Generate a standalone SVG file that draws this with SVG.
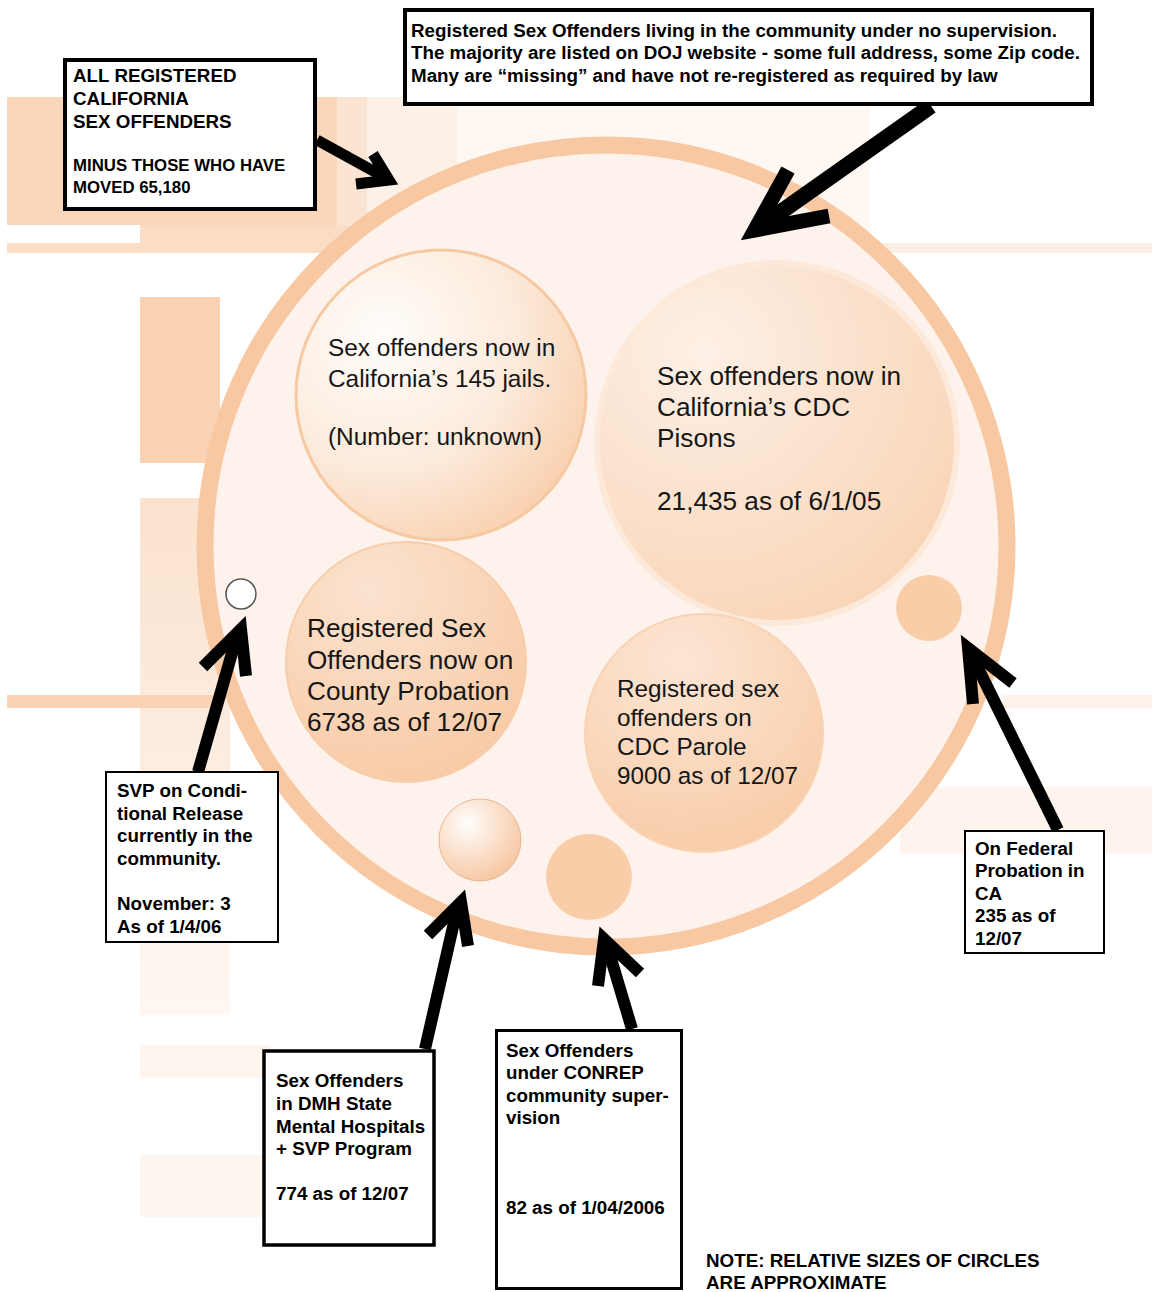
<svg xmlns="http://www.w3.org/2000/svg" width="1152" height="1292" viewBox="0 0 1152 1292">
<style>
.box{fill:#fff;stroke:#000}
.bt{font-family:"Liberation Sans",Arial,sans-serif;font-weight:bold;font-size:18.8px;fill:#000}
.sm{font-size:16.8px}
.ct{font-family:"Liberation Sans",Arial,sans-serif;fill:#161616}
.arr{fill:none;stroke:#000;stroke-linejoin:miter;stroke-miterlimit:6}
</style>
<defs>
<radialGradient id="gJail" cx="0.3" cy="0.3" r="0.85">
<stop offset="0" stop-color="#FFFDFB"/><stop offset="0.55" stop-color="#FCEADB"/><stop offset="1" stop-color="#F8CBA6"/>
</radialGradient>
<radialGradient id="gCdc" cx="0.3" cy="0.25" r="0.9">
<stop offset="0" stop-color="#FDF0E6"/><stop offset="1" stop-color="#F9D2B2"/>
</radialGradient>
<radialGradient id="gCounty" cx="0.35" cy="0.2" r="0.9">
<stop offset="0" stop-color="#FBE3D0"/><stop offset="1" stop-color="#F8C9A3"/>
</radialGradient>
<radialGradient id="gParole" cx="0.4" cy="0.2" r="0.9">
<stop offset="0" stop-color="#FCE6D5"/><stop offset="1" stop-color="#F8CAA4"/>
</radialGradient>
<radialGradient id="gDmh" cx="0.35" cy="0.3" r="0.8">
<stop offset="0" stop-color="#FFFDFB"/><stop offset="1" stop-color="#F6C29B"/>
</radialGradient>
<linearGradient id="gLeft" x1="0" y1="0" x2="0" y2="1">
<stop offset="0" stop-color="#FBE2CE"/><stop offset="1" stop-color="#FEF7F2"/>
</linearGradient>
</defs>

<g id="background">
<rect x="7" y="97" width="330" height="128" fill="#FAD7BB"/>
<rect x="337" y="97" width="30" height="128" fill="#FCE4D2"/>
<rect x="367" y="97" width="90" height="128" fill="#FDF0E7"/>
<rect x="457" y="97" width="413" height="150" fill="#FEF7F2"/>
<rect x="140" y="225" width="210" height="18" fill="#FBDCC4"/>
<rect x="7" y="243" width="460" height="10" fill="#FBDCC4"/>
<rect x="880" y="243" width="272" height="10" fill="#FDEEE4"/>
<rect x="140" y="297" width="80" height="166" fill="#FAD3B4"/>
<rect x="140" y="498" width="90" height="517" fill="url(#gLeft)"/>
<rect x="7" y="695" width="210" height="13" fill="#FAD3B4"/>
<rect x="140" y="1045" width="130" height="33" fill="#FEF5EE"/>
<rect x="140" y="1155" width="130" height="62" fill="#FEF5EE"/>
<rect x="900" y="787" width="252" height="66" fill="#FEF4ED"/>
<rect x="1003" y="695" width="149" height="13" fill="#FEF2EA"/>
</g>

<g id="all-registered-circle">
<circle cx="606" cy="546" r="401" fill="#FDF3EC" stroke="#F8C8A2" stroke-width="17"/>
</g>

<g id="jails">
<circle cx="441" cy="395" r="145" fill="url(#gJail)" stroke="#F6C9A3" stroke-width="3"/>
<text class="ct" font-size="24.4" x="328" y="355.5">Sex offenders now in</text>
<text class="ct" font-size="24.4" x="328" y="386.5">California’s 145 jails.</text>
<text class="ct" font-size="24.4" x="328" y="444.5">(Number: unknown)</text>
</g>

<g id="cdc-prisons">
<circle cx="777" cy="443" r="180" fill="url(#gCdc)" stroke="#FCE9DA" stroke-width="6"/>
<text class="ct" font-size="26.2" x="657" y="385">Sex offenders now in</text>
<text class="ct" font-size="26.2" x="657" y="416">California’s CDC</text>
<text class="ct" font-size="26.2" x="657" y="447">Pisons</text>
<text class="ct" font-size="26.2" x="657" y="510">21,435 as of 6/1/05</text>
</g>

<g id="county-probation">
<circle cx="406" cy="662" r="120" fill="url(#gCounty)" stroke="#F7CDAA" stroke-width="2"/>
<text class="ct" font-size="26.2" x="307" y="637">Registered Sex</text>
<text class="ct" font-size="26.2" x="307" y="669">Offenders now on</text>
<text class="ct" font-size="26.2" x="307" y="700">County Probation</text>
<text class="ct" font-size="26.2" x="307" y="731">6738 as of 12/07</text>
</g>

<g id="cdc-parole">
<circle cx="704" cy="733" r="119" fill="url(#gParole)" stroke="#F9D3B4" stroke-width="2"/>
<text class="ct" font-size="24.3" x="617" y="697">Registered sex</text>
<text class="ct" font-size="24.3" x="617" y="726">offenders on</text>
<text class="ct" font-size="24.3" x="617" y="755">CDC Parole</text>
<text class="ct" font-size="24.3" x="617" y="784">9000 as of 12/07</text>
</g>

<g id="svp-circle">
<circle cx="241" cy="594" r="15" fill="#fff" stroke="#555" stroke-width="1.5"/>
</g>
<g id="federal-circle">
<circle cx="929" cy="608" r="33" fill="#F9CDA8"/>
</g>
<g id="dmh-circle">
<circle cx="480" cy="840" r="41" fill="url(#gDmh)" stroke="#E8B68E" stroke-width="1"/>
</g>
<g id="conrep-circle">
<circle cx="589" cy="877" r="43" fill="#F9CDA8"/>
</g>

<g id="connectors">
<line class="arr" x1="317" y1="140" x2="386" y2="178" stroke-width="11"/>
<polyline class="arr" points="356,184 389,180 373,154" stroke-width="11"/>
<line class="arr" x1="931" y1="106" x2="758" y2="228" stroke-width="16"/>
<polyline class="arr" points="788,170 755,230 829,216" stroke-width="15"/>
<line class="arr" x1="198" y1="772" x2="238" y2="632" stroke-width="12"/>
<polyline class="arr" points="203,667 241,629 246,676" stroke-width="12"/>
<line class="arr" x1="425" y1="1049" x2="458" y2="905" stroke-width="12"/>
<polyline class="arr" points="428,935 461,902 468,946" stroke-width="12"/>
<line class="arr" x1="632" y1="1029" x2="606" y2="942" stroke-width="12"/>
<polyline class="arr" points="598,986 604,939 640,973" stroke-width="12"/>
<line class="arr" x1="1058" y1="830" x2="970" y2="652" stroke-width="12"/>
<polyline class="arr" points="973,704 968,648 1013,683" stroke-width="12"/>
</g>

<g id="all-registered-box">
<rect class="box" x="65" y="60" width="250" height="149" stroke-width="4"/>
<text class="bt" x="73" y="82">ALL REGISTERED</text>
<text class="bt" x="73" y="105">CALIFORNIA</text>
<text class="bt" x="73" y="128">SEX OFFENDERS</text>
<text class="bt sm" x="73" y="171">MINUS THOSE WHO HAVE</text>
<text class="bt sm" x="73" y="193">MOVED 65,180</text>
</g>

<g id="no-supervision-box">
<rect class="box" x="405" y="10" width="687" height="94" stroke-width="4"/>
<text class="bt" x="411" y="37">Registered Sex Offenders living in the community under no supervision.</text>
<text class="bt" x="411" y="59">The majority are listed on DOJ website - some full address, some Zip code.</text>
<text class="bt" x="411" y="82">Many are “missing” and have not re-registered as required by law</text>
</g>

<g id="svp-box">
<rect class="box" x="106" y="772" width="172" height="170" stroke-width="2"/>
<text class="bt" x="117" y="797">SVP on Condi-</text>
<text class="bt" x="117" y="820">tional Release</text>
<text class="bt" x="117" y="842">currently in the</text>
<text class="bt" x="117" y="865">community.</text>
<text class="bt" x="117" y="910">November: 3</text>
<text class="bt" x="117" y="933">As of 1/4/06</text>
</g>

<g id="federal-box">
<rect class="box" x="965" y="831" width="139" height="122" stroke-width="2"/>
<text class="bt" x="975" y="855">On Federal</text>
<text class="bt" x="975" y="877">Probation in</text>
<text class="bt" x="975" y="900">CA</text>
<text class="bt" x="975" y="922">235 as of</text>
<text class="bt" x="975" y="945">12/07</text>
</g>

<g id="dmh-box">
<rect class="box" x="264" y="1051" width="170" height="194" stroke-width="3.5"/>
<text class="bt" x="276" y="1087">Sex Offenders</text>
<text class="bt" x="276" y="1110">in DMH State</text>
<text class="bt" x="276" y="1133">Mental Hospitals</text>
<text class="bt" x="276" y="1155">+ SVP Program</text>
<text class="bt" x="276" y="1200">774 as of 12/07</text>
</g>

<g id="conrep-box">
<rect class="box" x="496.5" y="1030.5" width="185" height="258" stroke-width="3"/>
<text class="bt" x="506" y="1057">Sex Offenders</text>
<text class="bt" x="506" y="1079">under CONREP</text>
<text class="bt" x="506" y="1102">community super-</text>
<text class="bt" x="506" y="1124">vision</text>
<text class="bt" x="506" y="1214">82 as of 1/04/2006</text>
</g>

<g id="note">
<text class="bt" x="706" y="1267">NOTE: RELATIVE SIZES OF CIRCLES</text>
<text class="bt" x="706" y="1289">ARE APPROXIMATE</text>
</g>
</svg>
